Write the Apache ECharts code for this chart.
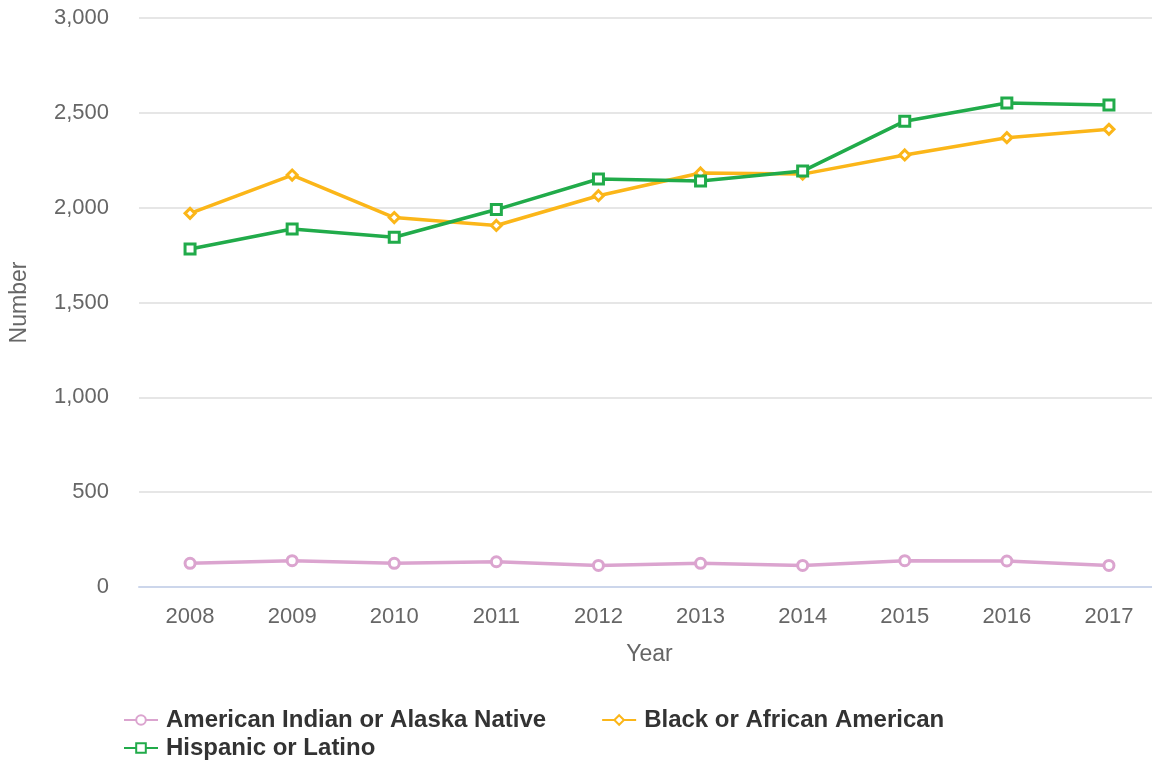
<!DOCTYPE html>
<html>
<head>
<meta charset="utf-8">
<script src="https://cdn.jsdelivr.net/npm/echarts@6/dist/echarts.min.js"></script>
<style>
  html, body { margin: 0; padding: 0; background: #fff; }
  #chart { width: 1152px; height: 760px; }
</style>
</head>
<body>
<div id="chart"></div>
<script>
  // values
  const years = ['2008', '2009', '2010', '2011', '2012', '2013', '2014', '2015', '2016', '2017'];
  const americanIndian = [125, 139, 125, 133, 114, 125, 114, 139, 137, 114];
  const blackAfrican = [1970, 2172, 1948, 1906, 2063, 2183, 2177, 2278, 2369, 2413];
  const hispanic = [1782, 1888, 1844, 1990, 2151, 2141, 2193, 2456, 2552, 2541];

  const font = '"Liberation Sans", Arial, sans-serif';

  let myChart = echarts.init(document.getElementById('chart'));

  function makeSeries(name, data, color, symbol) {
    return {
      name: name,
      type: 'line',
      data: data,
      symbol: symbol,
      symbolSize: 10,
      lineStyle: { width: 3.5, color: color },
      itemStyle: { color: '#fff', borderColor: color, borderWidth: 3 },
      emphasis: { disabled: true }
    };
  }

  const legendText = { fontSize: 24, fontWeight: 'bold', color: '#333', fontFamily: font, padding: [0, 0, 0, 3] };

  let option = {
    animation: false,
    textStyle: { fontFamily: font },
    grid: { left: 139, top: 18, width: 1021, height: 569, outerBoundsMode: 'none', containLabel: false },
    legend: [
      {
        left: 118,
        top: 703,
        itemWidth: 34,
        itemHeight: 12,
        itemGap: 55,
        textStyle: legendText,
        data: ['American Indian or Alaska Native', 'Black or African American']
      },
      {
        left: 118,
        top: 731,
        itemWidth: 34,
        itemHeight: 12,
        textStyle: legendText,
        data: ['Hispanic or Latino']
      }
    ],
    xAxis: {
      type: 'category',
      data: years,
      boundaryGap: true,
      name: 'Year',
      nameLocation: 'middle',
      nameGap: 56,
      nameTextStyle: { fontSize: 23, color: '#666' },
      axisLine: { lineStyle: { color: '#ccd6eb', width: 2 } },
      axisTick: { alignWithLabel: true, length: 16, lineStyle: { color: '#ccd6eb' } },
      axisLabel: { fontSize: 22, color: '#666', margin: 19 }
    },
    yAxis: {
      type: 'value',
      min: 0,
      max: 3000,
      interval: 500,
      name: 'Number',
      nameLocation: 'middle',
      nameGap: 108,
      nameTextStyle: { fontSize: 23, color: '#666' },
      axisLine: { show: false },
      axisTick: { show: false },
      splitLine: { lineStyle: { color: '#e6e6e6', width: 2 } },
      axisLabel: {
        fontSize: 22,
        color: '#666',
        margin: 30,
        formatter: function (v) { return v.toLocaleString('en-US'); }
      }
    },
    series: [
      makeSeries('American Indian or Alaska Native', americanIndian, '#dba4cf', 'circle'),
      makeSeries('Black or African American', blackAfrican, '#fbb619', 'diamond'),
      makeSeries('Hispanic or Latino', hispanic, '#21ab4a', 'rect')
    ]
  };

  myChart.setOption(option);
</script>
</body>
</html>
